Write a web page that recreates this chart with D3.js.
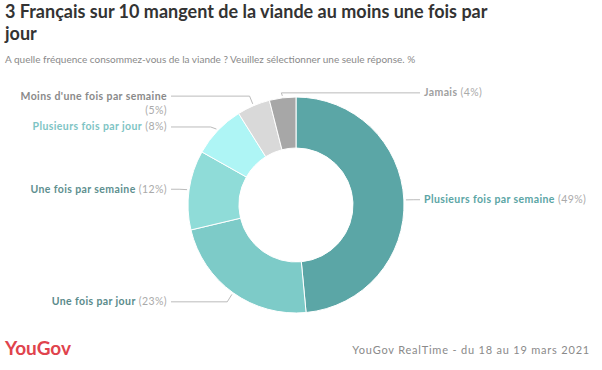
<!DOCTYPE html>
<meta charset="utf-8">
<script src="https://cdn.jsdelivr.net/npm/d3@7/dist/d3.min.js"></script>
<style>
body{margin:0; background:#fff;}
svg{font-family: Lato, "Open Sans", sans-serif;}
.title{font-size:18px; font-weight:700; fill:#333;}
.subtitle{font-size:10px; fill:#8a8a8a;}
.lbl{font-size:10.5px; letter-spacing:0.4px;}
.lbl-name{font-weight:700;}
.lbl-pct{font-weight:400; fill:#aaa;}
.leader{fill:none; stroke:#bbb; stroke-width:1;}
.source{font-size:11px; letter-spacing:0.8px; fill:#8a8a8a;}
.logo{font-size:19px; font-weight:700; fill:#e0434d;}
</style>

<div id="vis"></div>

<script>

// Data (clockwise from 12 o'clock)
const categories = ["Plusieurs fois par semaine", "Une fois par jour", "Une fois par semaine",
                    "Plusieurs fois par jour", "Moins d'une fois par semaine", "Jamais"];
const values = [49, 23, 12, 8, 5, 4];
const sliceColors = ["#5ba6a6", "#7dcbc8", "#8fdcd8", "#aef5f5", "#d9d9d9", "#a7a7a7"];
const labelColors = ["#5ba5a5", "#5a8b8b", "#5e8f8f", "#7ec4c4", "#8a8a8a", "#a0a0a0"];

const w = 602, h = 370;
const cx = 296, cy = 205;
const outerR = 108, innerR = 57;

let svg = d3.select("#vis")
  .append("svg")
  .attr("width", w)
  .attr("height", h);

// Title
svg.append("text").attr("class", "title").attr("x", 5).attr("y", 18)
  .text("3 Français sur 10 mangent de la viande au moins une fois par");
svg.append("text").attr("class", "title").attr("x", 5).attr("y", 40)
  .text("jour");
svg.append("text").attr("class", "subtitle").attr("x", 5).attr("y", 63)
  .text("A quelle fréquence consommez-vous de la viande ? Veuillez sélectionner une seule réponse. %");

const data = categories.map((c, i) => ({name: c, value: values[i], color: sliceColors[i], lcolor: labelColors[i]}));

const pie = d3.pie().sort(null).value(d => d.value);
const arcs = pie(data);
const arc = d3.arc().innerRadius(innerR).outerRadius(outerR);

let g = svg.append("g").attr("transform", "translate(" + cx + "," + cy + ")");

g.selectAll(".slice")
  .data(arcs)
  .enter().append("path")
    .attr("class", "slice")
    .attr("d", arc)
    .attr("fill", d => d.data.color)
    .attr("stroke", "#fff")
    .attr("stroke-width", 1);

// Labels and leader lines
arcs.forEach(d => {
  const a = (d.startAngle + d.endAngle) / 2;
  const right = Math.sin(a) > -0.15;
  const sx = Math.sin(a) * (outerR + 2), sy = -Math.cos(a) * (outerR + 2);
  let ly = -Math.cos(a) * (outerR + 5);
  if (Math.cos(a) < -0.5) ly += 5;
  const bx = Math.sin(a) * (outerR + 10);
  const lx = right ? outerR + 20 : -(outerR + 21);
  const twoLine = d.data.name.length > 27;
  if (twoLine) ly -= 5;

  g.append("path")
    .attr("class", "leader")
    .attr("d", d3.line()([[sx, sy], [bx, ly], [right ? lx - 4 : lx + 4, ly]]));

  const t = g.append("text")
    .attr("class", "lbl")
    .attr("x", lx)
    .attr("y", ly + 3.5)
    .attr("text-anchor", right ? "start" : "end");
  t.append("tspan").attr("class", "lbl-name").attr("fill", d.data.lcolor).text(d.data.name);
  if (twoLine) {
    g.append("text")
      .attr("class", "lbl lbl-pct")
      .attr("x", lx).attr("y", ly + 17.5)
      .attr("text-anchor", "end")
      .text("(" + d.data.value + "%)");
  } else {
    t.append("tspan").attr("class", "lbl-pct").text(" (" + d.data.value + "%)");
  }
});

// Footer
svg.append("text").attr("class", "logo").attr("x", 5).attr("y", 355).text("YouGov");
svg.append("text").attr("class", "source").attr("x", 590).attr("y", 354)
  .attr("text-anchor", "end")
  .text("YouGov RealTime - du 18 au 19 mars 2021");

</script>
